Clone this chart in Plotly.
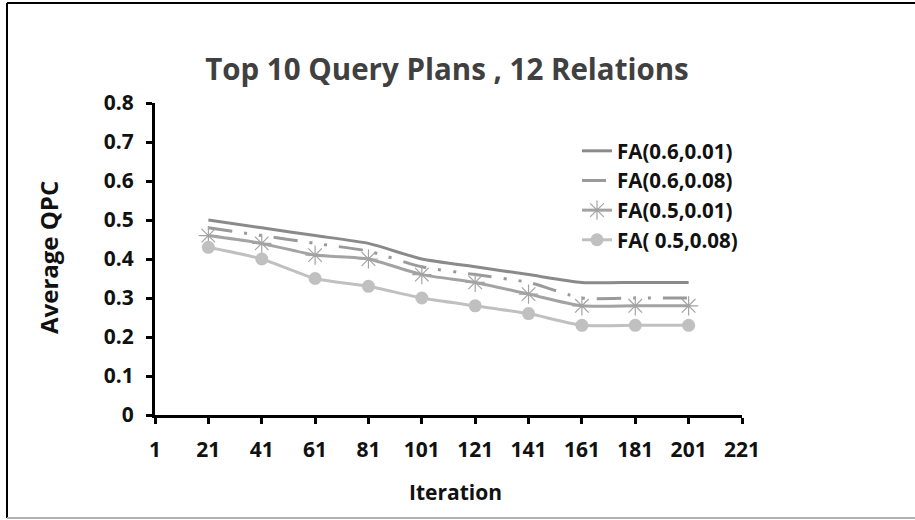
import plotly.graph_objects as go

# Iterations sampled along the x axis
iterations = [21, 41, 61, 81, 101, 121, 141, 161, 181, 201]
x_ticks = [1, 21, 41, 61, 81, 101, 121, 141, 161, 181, 201, 221]
y_ticks = [0, 0.1, 0.2, 0.3, 0.4, 0.5, 0.6, 0.7, 0.8]

# Average QPC per configuration
fa_06_001 = [0.50, 0.48, 0.46, 0.44, 0.40, 0.38, 0.36, 0.34, 0.34, 0.34]
fa_06_008 = [0.48, 0.46, 0.44, 0.42, 0.38, 0.36, 0.34, 0.30, 0.30, 0.30]
fa_05_001 = [0.46, 0.44, 0.41, 0.40, 0.36, 0.34, 0.31, 0.28, 0.28, 0.28]
fa_05_008 = [0.43, 0.40, 0.35, 0.33, 0.30, 0.28, 0.26, 0.23, 0.23, 0.23]

FONT = "Open Sans"

# plot area in pixels (915x520 page)
L, R, T, B = 155, 742, 103, 415
W, H = 915, 520


def px(x):
    return (x - L) / (R - L)


def py(y):
    return (B - y) / (B - T)


fig = go.Figure()

fig.add_trace(go.Scatter(
    x=iterations, y=fa_06_001, name="<b>FA(0.6,0.01)</b>", mode="lines",
    line=dict(color="#8a8a8a", width=3, shape="spline", smoothing=0.6),
    legendgroup="a"))
fig.add_trace(go.Scatter(
    x=iterations, y=fa_06_008, name="<b>FA(0.6,0.08)</b>", mode="lines",
    line=dict(color="#9a9a9a", width=3, shape="spline", smoothing=0.6,
              dash="24px,12px,3px,12px,3px,12px"),
    legendgroup="b"))
fig.add_trace(go.Scatter(
    x=iterations, y=fa_05_001, name="<b>FA(0.5,0.01)</b>", mode="lines+markers",
    line=dict(color="#a3a3a3", width=3, shape="spline", smoothing=0.6),
    marker=dict(symbol="asterisk-open", size=16,
                line=dict(color="#a3a3a3", width=1.2)),
    legendgroup="c"))
fig.add_trace(go.Scatter(
    x=iterations, y=fa_05_008, name="<b>FA( 0.5,0.08)</b>", mode="lines+markers",
    line=dict(color="#c0c0c0", width=3, shape="spline", smoothing=0.6),
    marker=dict(symbol="circle", size=13, color="#c0c0c0"),
    legendgroup="d"))

shapes = [
    # outer frame
    dict(type="line", xref="paper", yref="paper", x0=px(7), x1=px(915),
         y0=py(3), y1=py(3), line=dict(color="black", width=2)),
    dict(type="line", xref="paper", yref="paper", x0=px(7), x1=px(7),
         y0=py(3), y1=py(518), line=dict(color="black", width=2)),
    dict(type="line", xref="paper", yref="paper", x0=px(7), x1=px(915),
         y0=py(518), y1=py(518), line=dict(color="#b0b0b0", width=2)),
]

annotations = [
    dict(text="<b>Average QPC</b>", xref="paper", yref="paper",
         x=px(48), y=py(258), textangle=-90, showarrow=False,
         font=dict(family=FONT, size=24, color="#111111"),
         xanchor="center", yanchor="middle"),
    dict(text="<b>Iteration</b>", xref="paper", yref="paper",
         x=px(455), y=py(492), showarrow=False,
         font=dict(family=FONT, size=21, color="#111111"),
         xanchor="center", yanchor="middle"),
]

fig.update_layout(
    width=W, height=H,
    margin=dict(l=L, r=W - R, t=T, b=H - B, pad=0),
    paper_bgcolor="white", plot_bgcolor="white",
    title=dict(text="<b>Top 10 Query Plans , 12 Relations</b>",
               x=px(447), xref="paper", xanchor="center",
               y=1 - 70 / H, yanchor="middle",
               font=dict(family=FONT, size=29.5, color="#404040")),
    font=dict(family=FONT, color="#111111"),
    showlegend=True,
    legend=dict(x=px(577), y=py(131), xanchor="left", yanchor="top",
                bgcolor="rgba(0,0,0,0)", traceorder="grouped",
                tracegroupgap=0,
                font=dict(family=FONT, size=20.5, color="#111111")),
    shapes=shapes,
    annotations=annotations,
)

fig.update_xaxes(
    range=[1, 221], tickmode="array", tickvals=x_ticks,
    ticktext=[f"<b>{v}</b>" for v in x_ticks],
    showline=True, linecolor="black", linewidth=3,
    ticks="outside", ticklen=6, tickwidth=3, tickcolor="black",
    ticklabelstandoff=8,
    showgrid=False, zeroline=False,
    tickfont=dict(family=FONT, size=21, color="#111111"),
)
fig.update_yaxes(
    range=[0, 0.8], tickmode="array", tickvals=y_ticks,
    ticktext=[f"<b>{v:g}</b>" for v in y_ticks],
    showline=True, linecolor="black", linewidth=3,
    ticks="outside", ticklen=6, tickwidth=3, tickcolor="black",
    ticklabelstandoff=8,
    showgrid=False, zeroline=False,
    tickfont=dict(family=FONT, size=21, color="#111111"),
)

fig.write_html("out.html")
